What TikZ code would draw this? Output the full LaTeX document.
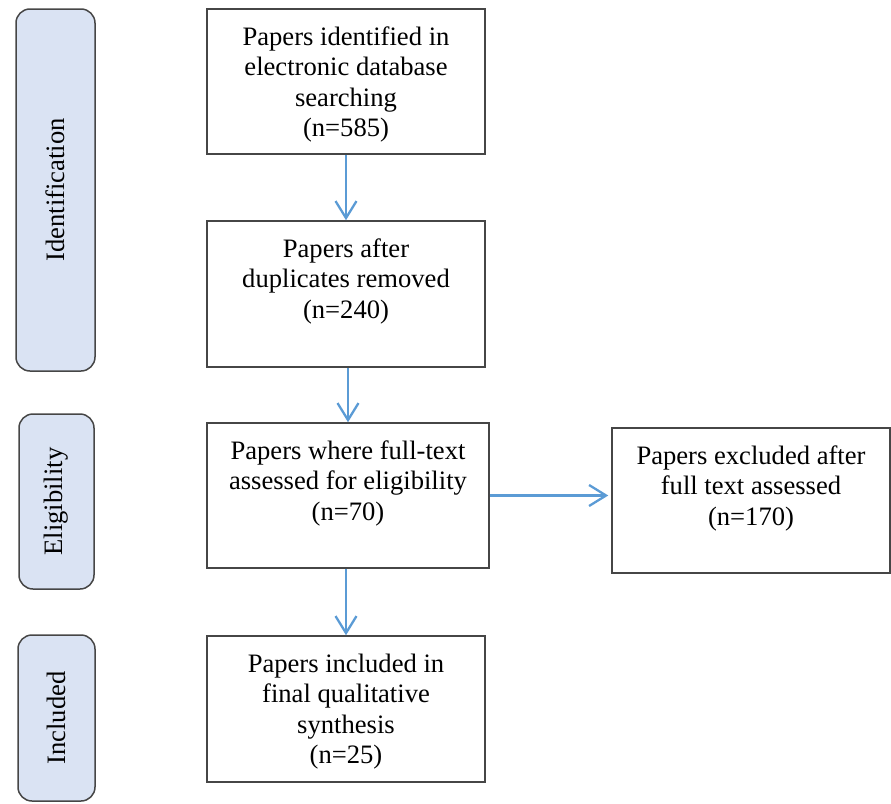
\documentclass[tikz,border=0pt]{standalone}
\usepackage{fontspec}
\setmainfont{Liberation Serif}
\usetikzlibrary{arrows.meta}
\definecolor{arrowblue}{RGB}{91,155,213}
\definecolor{sidefill}{RGB}{218,227,243}
\definecolor{edgegray}{RGB}{70,70,70}
\newcommand\boxtxt[3]{\parbox[c][#2][t]{#1}{\centering\rule{0pt}{36pt}#3}}
\tikzset{
  flowbox/.style={draw=edgegray, line width=1.5pt, inner sep=0pt, font=\fontsize{26.6}{30.6}\selectfont},
  sidebox/.style={draw=edgegray, line width=1.5pt, fill=sidefill, rounded corners=14pt, inner sep=0pt, font=\fontsize{26.6}{30.6}\selectfont},
  flowarrow/.style={draw=arrowblue, line width=2.3pt, -{Straight Barb[length=17pt,width=21pt]}}
}
\begin{document}
\begin{tikzpicture}[x=1pt,y=-1pt]
\useasboundingbox (0,0) rectangle (891,803);
% side labels
\node[sidebox, rotate=90, minimum width=362pt, minimum height=79pt] (s1) at (55.5,190) {Identification};
\node[sidebox, rotate=90, minimum width=175pt, minimum height=75pt] (s2) at (56.5,501.5) {Eligibility};
\node[sidebox, rotate=90, minimum width=166pt, minimum height=77pt] (s3) at (56.5,718) {Included};
% flow boxes
\node[flowbox] (b1) at (346,81.5) {\boxtxt{278pt}{145pt}{Papers identified in\\electronic database\\searching\\(n=585)}};
\node[flowbox] (b2) at (346,294) {\boxtxt{278pt}{146pt}{Papers after\\duplicates removed\\(n=240)}};
\node[flowbox] (b3) at (348,495.5) {\boxtxt{282pt}{145pt}{Papers where full-text\\assessed for eligibility\\(n=70)}};
\node[flowbox] (b4) at (346,709) {\boxtxt{278pt}{146pt}{Papers included in\\final qualitative\\synthesis\\(n=25)}};
\node[flowbox] (r) at (751,500.5) {\boxtxt{278pt}{145pt}{Papers excluded after\\full text assessed\\(n=170)}};
% arrows
\draw[flowarrow] (b1.south) -- (b2.north);
\draw[flowarrow] (b2.south -| b3.north) -- (b3.north);
\draw[flowarrow] (b3.south -| b4.north) -- (b4.north);
\draw[flowarrow, shorten >=3pt] (b3.east) -- (b3.east -| r.west);
\end{tikzpicture}
\end{document}
